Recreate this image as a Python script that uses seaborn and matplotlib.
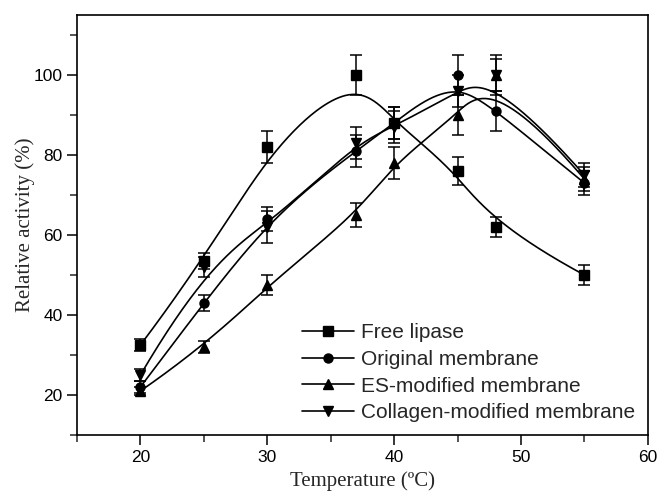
import numpy as np
import pandas as pd
import matplotlib
matplotlib.use("Agg")
import matplotlib.pyplot as plt
from matplotlib.lines import Line2D
from matplotlib.ticker import MultipleLocator
import seaborn as sns

# Dados (temperatura em °C, atividade relativa em %)
temperature = [20, 25, 30, 37, 40, 45, 48, 55]

free_lipase = [32.5, 53.5, 82, 100, 88, 76, 62, 50]
free_lipase_err = [1.5, 2, 4, 5, 4, 3.5, 2.5, 2.5]

original = [22, 43, 64, 81, 88, 100, 91, 73]
original_err = [1.5, 2, 3, 4, 4, 5, 5, 3]

es_modified = [21, 32, 47.5, 65, 78, 90, 100, 74]
es_modified_err = [1, 1.5, 2.5, 3, 4, 5, 4, 3]

collagen = [25, 52, 62, 83, 87, 96, 100, 75]
collagen_err = [1.5, 2.5, 4, 4, 4, 4, 5, 3]

series_names = ["Free lipase", "Original membrane",
                "ES-modified membrane", "Collagen-modified membrane"]
markers = ["s", "o", "^", "v"]


def bspline(xs, ys, num=300, k=3):
    """ Curva B-spline cúbica (fixa nas pontas) usando os pontos como controle. """
    P = np.column_stack([xs, ys]).astype(float)
    n = len(P)
    inner = np.linspace(0, 1, n - k + 1)[1:-1]
    t = np.concatenate([np.zeros(k + 1), inner, np.ones(k + 1)])
    u = np.linspace(0, 1, num)
    u[-1] = 1 - 1e-10

    def basis(i, d, uu):
        if d == 0:
            return ((t[i] <= uu) & (uu < t[i + 1])).astype(float)
        a = 0.0
        b = 0.0
        if t[i + d] != t[i]:
            a = (uu - t[i]) / (t[i + d] - t[i]) * basis(i, d - 1, uu)
        if t[i + d + 1] != t[i + 1]:
            b = (t[i + d + 1] - uu) / (t[i + d + 1] - t[i + 1]) * basis(i + 1, d - 1, uu)
        return a + b

    N = np.array([basis(i, k, u) for i in range(n)])
    curve = N.T @ P
    return curve[:, 0], curve[:, 1]


sns.set_style("ticks")
plt.rcParams['font.family'] = ['Liberation Sans', 'DejaVu Sans']

fig = plt.figure(figsize=(6.61, 4.92), dpi=100)
ax = fig.add_axes([0.1165, 0.1159, 0.8635, 0.8536])

all_series = [
    (free_lipase, free_lipase_err),
    (original, original_err),
    (es_modified, es_modified_err),
    (collagen, collagen_err),
]

for (vals, errs), name, mk in zip(all_series, series_names, markers):
    cx, cy = bspline(temperature, vals)
    df_curve = pd.DataFrame({"x": cx, "y": cy})
    sns.lineplot(data=df_curve, x="x", y="y", sort=False, estimator=None,
                 color="black", linewidth=1.2, ax=ax)
    ax.errorbar(temperature, vals, yerr=errs, fmt=mk, color="black",
                markersize=6.5 if mk in ("s", "o") else 7.5,
                elinewidth=1.1, capsize=4, capthick=1.1, zorder=3)

ax.set_xlim(15, 60)
ax.set_ylim(10, 115)
ax.xaxis.set_major_locator(MultipleLocator(10))
ax.xaxis.set_minor_locator(MultipleLocator(5))
ax.yaxis.set_major_locator(MultipleLocator(20))
ax.yaxis.set_minor_locator(MultipleLocator(10))
ax.set_yticks([20, 40, 60, 80, 100])
ax.tick_params(which="major", direction="out", length=7, width=1.1,
               labelsize=12.5, colors="black")
ax.tick_params(which="minor", direction="out", length=5, width=1.1)
ax.tick_params(top=False, right=False, which="both")
for sp in ax.spines.values():
    sp.set_visible(True)
    sp.set_linewidth(1.2)
    sp.set_color("black")

ax.set_xlabel("Temperature (ºC)", fontsize=15, family=["Liberation Serif", "DejaVu Serif"],
              labelpad=5)
ax.set_ylabel("Relative activity (%)", fontsize=15, family=["Liberation Serif", "DejaVu Serif"],
              labelpad=-1)

handles = [Line2D([], [], color="black", marker=mk, linewidth=1.2,
                  markersize=7.5 if mk in ("^", "v") else 6.5)
           for mk in markers]
ax.legend(handles, series_names, loc="lower left", bbox_to_anchor=(0.394, 0.03),
          frameon=False, fontsize=15, handlelength=2.5, handletextpad=0.33,
          labelspacing=0.37, borderpad=0, borderaxespad=0)

fig.savefig("out.png", dpi=100)
